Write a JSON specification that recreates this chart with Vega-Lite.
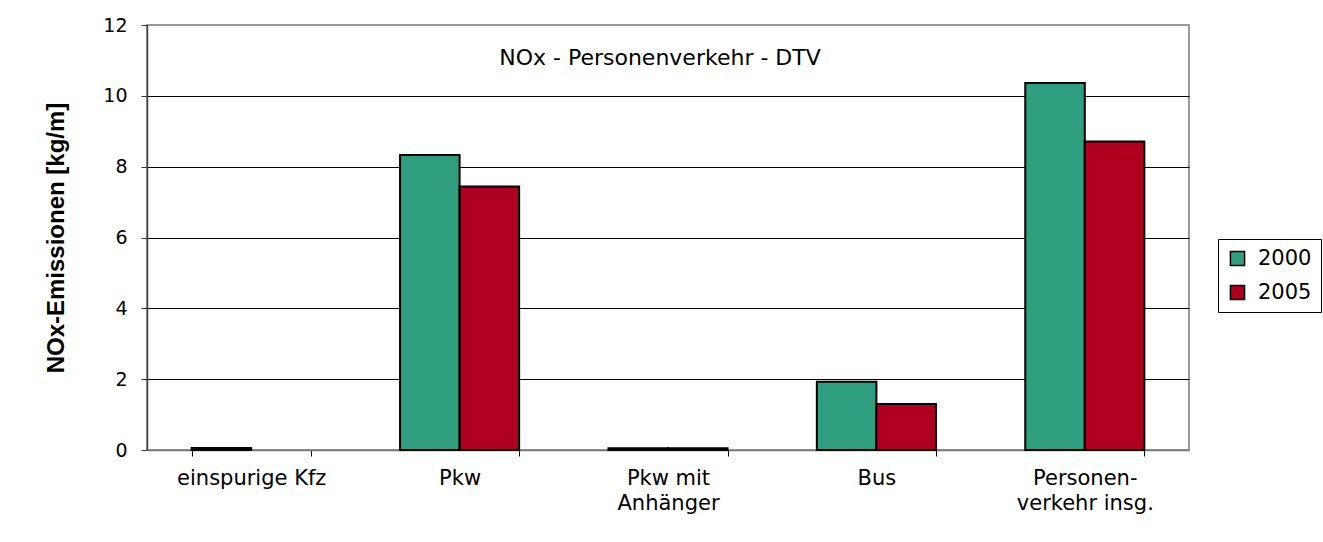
{
  "$schema": "https://vega.github.io/schema/vega-lite/v6.json",
  "autosize": "none",
  "width": 1042,
  "height": 425,
  "padding": {"left": 147, "top": 25, "right": 134, "bottom": 92},
  "background": "white",
  "title": {
    "text": "NOx - Personenverkehr - DTV",
    "font": "DejaVu Sans",
    "fontSize": 22,
    "fontWeight": "normal",
    "color": "black",
    "anchor": "middle",
    "frame": "group",
    "baseline": "middle",
    "offset": -64,
    "dx": -8
  },
  "data": {
    "values": [
      {"kat": "einspurige Kfz", "jahr": "2000", "wert": 0.06},
      {"kat": "einspurige Kfz", "jahr": "2005", "wert": null},
      {"kat": "Pkw", "jahr": "2000", "wert": 8.33},
      {"kat": "Pkw", "jahr": "2005", "wert": 7.44},
      {"kat": "Pkw  mit|Anhänger", "jahr": "2000", "wert": 0.05},
      {"kat": "Pkw  mit|Anhänger", "jahr": "2005", "wert": 0.05},
      {"kat": "Bus", "jahr": "2000", "wert": 1.93},
      {"kat": "Bus", "jahr": "2005", "wert": 1.3},
      {"kat": "Personen-|verkehr insg.", "jahr": "2000", "wert": 10.36},
      {"kat": "Personen-|verkehr insg.", "jahr": "2005", "wert": 8.71}
    ]
  },
  "mark": {"type": "bar", "stroke": "black", "strokeWidth": 2},
  "encoding": {
    "x": {
      "field": "kat",
      "type": "nominal",
      "sort": null,
      "scale": {"paddingInner": 0.4286, "paddingOuter": 0.2143},
      "axis": {
        "title": null,
        "labelAngle": 0,
        "labelExpr": "datum.value ? split(datum.value, '|') : ''",
        "labelFont": "DejaVu Sans",
        "labelFontSize": 21,
        "labelColor": "black",
        "labelPadding": 11,
        "labelLineHeight": 25,
        "tickBand": "extent",
        "tickSize": 6,
        "tickColor": "black",
        "domainColor": "#777",
        "domainWidth": 1.5,
        "grid": false
      }
    },
    "xOffset": {"field": "jahr", "type": "nominal", "scale": {"domain": ["2000", "2005"], "paddingInner": 0, "paddingOuter": 0}},
    "y": {
      "field": "wert",
      "type": "quantitative",
      "scale": {"domain": [0, 12], "nice": false},
      "axis": {
        "title": "NOx-Emissionen [kg/m]",
        "titleFont": "Liberation Sans",
        "titleFontSize": 24,
        "titleFontWeight": "bold",
        "titleColor": "black",
        "titlePadding": 34,
        "values": [0, 2, 4, 6, 8, 10, 12],
        "labelFont": "DejaVu Sans",
        "labelFontSize": 19,
        "labelColor": "black",
        "labelPadding": 14,
        "tickSize": 6,
        "tickColor": "#333",
        "domainColor": "#444",
        "domainWidth": 1.5,
        "grid": true,
        "gridColor": "black",
        "gridWidth": 1,
        "gridOpacity": {"condition": {"test": "datum.value == 0 || datum.value == 12", "value": 0}, "value": 1}
      }
    },
    "color": {
      "field": "jahr",
      "type": "nominal",
      "scale": {"domain": ["2000", "2005"], "range": ["#2e9e7e", "#b0001f"]},
      "legend": {
        "title": null,
        "orient": "none",
        "legendX": 1071,
        "legendY": 214,
        "strokeColor": "black",
        "fillColor": "white",
        "padding": 9,
        "symbolType": "square",
        "symbolSize": 200,
        "symbolStrokeColor": "black",
        "symbolStrokeWidth": 1.5,
        "symbolOpacity": 1,
        "labelFont": "DejaVu Sans",
        "labelFontSize": 21,
        "labelColor": "black",
        "labelOffset": 10,
        "rowPadding": 12
      }
    }
  },
  "config": {"view": {"stroke": "#999", "strokeWidth": 2}}
}
